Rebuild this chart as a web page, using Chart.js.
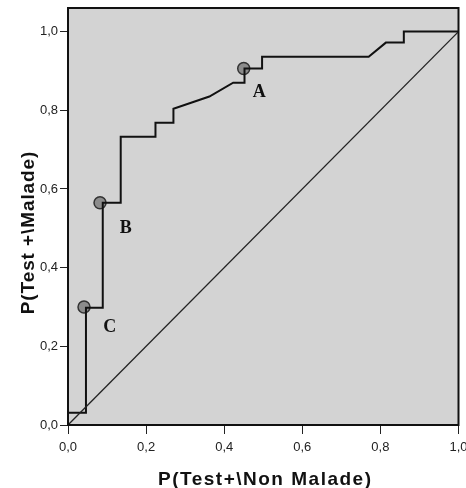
<!DOCTYPE html>
<html>
<head>
<meta charset="utf-8">
<script src="https://cdn.jsdelivr.net/npm/chart.js@4.4.1/dist/chart.umd.min.js"></script>
<style>
  html, body { margin: 0; padding: 0; background: #fff; }
  #roc { display: block; }
</style>
</head>
<body>
<canvas id="roc" width="466" height="488"></canvas>
<script>
// ROC curve
const rocFpr = [0, 0, 0.046, 0.046, 0.089, 0.089, 0.135, 0.135, 0.224, 0.224, 0.270, 0.270, 0.362, 0.423, 0.452, 0.452, 0.497, 0.497, 0.770, 0.814, 0.860, 0.860, 1.0];
const rocTpr = [0, 0.031, 0.031, 0.298, 0.298, 0.565, 0.565, 0.733, 0.733, 0.768, 0.768, 0.804, 0.835, 0.870, 0.870, 0.906, 0.906, 0.936, 0.936, 0.972, 0.972, 1.0, 1.0];

// reference line
const diagX = [0, 1];
const diagY = [0, 1];

// marked thresholds A, B, C
const markNames = ['A', 'B', 'C'];
const markX = [0.450, 0.082, 0.041];
const markY = [0.906, 0.565, 0.300];
// where the letters sit (data units)
const labelX = [0.490, 0.148, 0.107];
const labelY = [0.845, 0.501, 0.249];

const tickValues = [0, 0.2, 0.4, 0.6, 0.8, 1.0];

const xTitle = 'P(Test+\\Non Malade)';
const yTitle = 'P(Test +\\Malade)';

function toPoints(xs, ys) {
  return xs.map((x, i) => ({ x: x, y: ys[i] }));
}

function fmtTick(v) {
  return v.toFixed(1).replace('.', ',');
}

// gray plot background + frame + letters + axis titles
const decorPlugin = {
  id: 'decor',
  beforeDatasetsDraw(chart) {
    const { ctx, chartArea: a } = chart;
    ctx.save();
    ctx.fillStyle = '#d3d3d3';
    ctx.fillRect(a.left, a.top, a.right - a.left, a.bottom - a.top);
    ctx.restore();
  },
  afterDraw(chart) {
    const { ctx, chartArea: a, scales } = chart;
    ctx.save();
    ctx.strokeStyle = '#111';
    ctx.lineWidth = 2;
    ctx.strokeRect(a.left, a.top, a.right - a.left, a.bottom - a.top);

    // A, B, C
    ctx.fillStyle = '#111';
    ctx.font = 'bold 18px "Liberation Serif", "Times New Roman", serif';
    ctx.textAlign = 'center';
    ctx.textBaseline = 'middle';
    markNames.forEach((n, i) => {
      ctx.fillText(n, scales.x.getPixelForValue(labelX[i]), scales.y.getPixelForValue(labelY[i]));
    });

    // axis titles
    ctx.font = 'bold 19px "Liberation Sans", Arial, sans-serif';
    ctx.letterSpacing = '1.5px';
    ctx.textBaseline = 'alphabetic';
    ctx.fillText(xTitle, (a.left + a.right) / 2 + 2, 485);
    ctx.letterSpacing = '0.9px';
    ctx.translate(34, (a.top + a.bottom) / 2 + 16);
    ctx.rotate(-Math.PI / 2);
    ctx.fillText(yTitle, 0, 0);
    ctx.restore();
  }
};

const ctx = document.getElementById('roc').getContext('2d');
new Chart(ctx, {
  type: 'scatter',
  data: {
    datasets: [
      {
        label: 'diag',
        data: toPoints(diagX, diagY),
        showLine: true,
        borderColor: '#222',
        borderWidth: 1.3,
        pointRadius: 0
      },
      {
        label: 'ROC',
        data: toPoints(rocFpr, rocTpr),
        showLine: true,
        borderColor: '#111',
        borderWidth: 2,
        pointRadius: 0
      },
      {
        label: 'marks',
        data: toPoints(markX, markY),
        pointRadius: 6,
        pointBackgroundColor: '#8c8c8c',
        pointBorderColor: '#333',
        pointBorderWidth: 1.5
      }
    ]
  },
  options: {
    responsive: false,
    devicePixelRatio: 1,
    animation: false,
    layout: { padding: { top: 8, right: 6, left: 0, bottom: 0 } },
    plugins: {
      legend: { display: false },
      tooltip: { enabled: false }
    },
    scales: {
      x: {
        type: 'linear',
        min: 0,
        max: 1,
        afterBuildTicks: s => { s.ticks = tickValues.map(v => ({ value: v })); },
        afterFit: s => { s.height = 63; s.paddingLeft = 0; s.paddingRight = 0; },
        border: { display: false },
        grid: { drawOnChartArea: false, drawTicks: true, tickLength: 9, color: '#222', lineWidth: 1 },
        ticks: {
          callback: v => fmtTick(v),
          color: '#222',
          padding: 6,
          maxRotation: 0,
          autoSkip: false,
          font: { family: '"Liberation Sans", Arial, sans-serif', size: 13 }
        }
      },
      y: {
        type: 'linear',
        min: 0,
        max: 1.06,
        afterBuildTicks: s => { s.ticks = tickValues.map(v => ({ value: v })); },
        afterFit: s => { s.width = 68; s.paddingTop = 0; s.paddingBottom = 0; },
        border: { display: false },
        grid: { drawOnChartArea: false, drawTicks: true, tickLength: 8, color: '#222', lineWidth: 1 },
        ticks: {
          callback: v => fmtTick(v),
          color: '#222',
          padding: 2,
          autoSkip: false,
          font: { family: '"Liberation Sans", Arial, sans-serif', size: 13 }
        }
      }
    }
  },
  plugins: [decorPlugin]
});
</script>
</body>
</html>
